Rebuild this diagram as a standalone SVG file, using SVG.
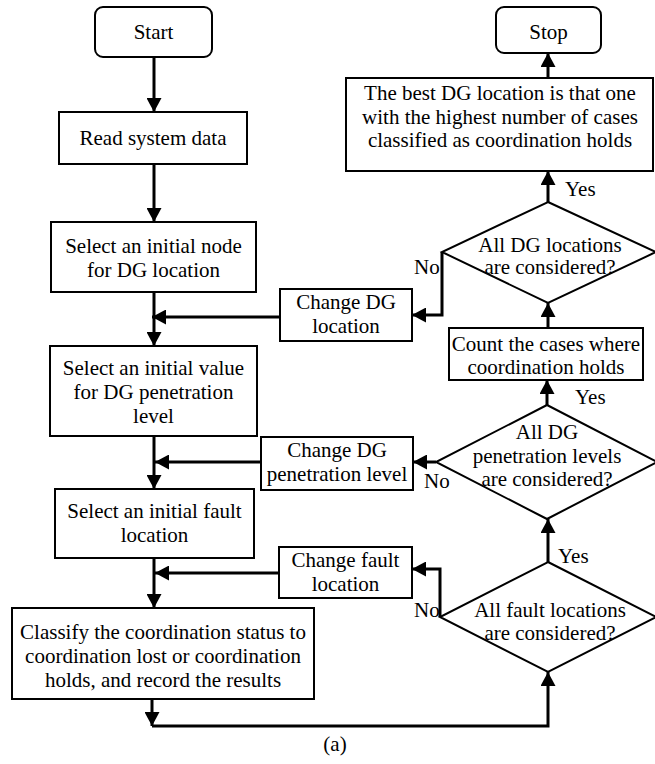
<svg xmlns="http://www.w3.org/2000/svg" width="655" height="764" viewBox="0 0 655 764">
<style>
.box{fill:#fff;stroke:#000;stroke-width:2}
.t{font-family:'Liberation Serif','Times New Roman',Times,serif;font-size:21px;fill:#000;text-anchor:middle}
.l{font-family:'Liberation Serif','Times New Roman',Times,serif;font-size:21px;fill:#000}
.c{fill:none;stroke:#000;stroke-width:3}
</style>
<defs>
<marker id="ah" markerUnits="userSpaceOnUse" markerWidth="15" markerHeight="15" refX="14" refY="7.5" orient="auto">
<path d="M0,0 L14,7.5 L0,15 z" fill="#000"/>
</marker>
</defs>
<rect width="655" height="764" fill="#fff"/>
<g id="connectors">
<path class="c" d="M154,57 V112" marker-end="url(#ah)"/>
<path class="c" d="M154,164 V222" marker-end="url(#ah)"/>
<path class="c" d="M154,292 V346" marker-end="url(#ah)"/>
<path class="c" d="M280,317 H152" marker-end="url(#ah)"/>
<path class="c" d="M154,436 V489" marker-end="url(#ah)"/>
<path class="c" d="M261,462 H155" marker-end="url(#ah)"/>
<path class="c" d="M154,558 V608" marker-end="url(#ah)"/>
<path class="c" d="M279,573 H155" marker-end="url(#ah)"/>
<path class="c" d="M152,699 V726" marker-end="url(#ah)"/>
<path class="c" d="M152,726 H548 V672" marker-end="url(#ah)"/>
<path class="c" d="M548,562 V519" marker-end="url(#ah)"/>
<path class="c" d="M440,617 V569 H412" marker-end="url(#ah)"/>
<path class="c" d="M436,462 H413" marker-end="url(#ah)"/>
<path class="c" d="M547,405 V380" marker-end="url(#ah)"/>
<path class="c" d="M548,328 V303" marker-end="url(#ah)"/>
<path class="c" d="M442,252 V315 H412" marker-end="url(#ah)"/>
<path class="c" d="M548,202 V171" marker-end="url(#ah)"/>
<path class="c" d="M548,78 V53" marker-end="url(#ah)"/>
<text class="l" x="565" y="196">Yes</text>
<text class="l" x="414" y="274">No</text>
<text class="l" x="575" y="404">Yes</text>
<text class="l" x="424" y="488">No</text>
<text class="l" x="558" y="563">Yes</text>
<text class="l" x="414" y="617">No</text>
</g>
<g id="start">
<rect class="box" x="95" y="7" width="117" height="50" rx="8"/>
<text class="t" x="153.5" y="39">Start</text>
</g>
<g id="read">
<rect class="box" x="59" y="112" width="188" height="52"/>
<text class="t" x="153" y="145">Read system data</text>
</g>
<g id="selnode">
<rect class="box" x="51" y="222" width="205" height="70"/>
<text class="t" x="153.5" y="253">Select an initial node</text>
<text class="t" x="153.5" y="277">for DG location</text>
</g>
<g id="selvalue">
<rect class="box" x="50" y="346" width="207" height="90"/>
<text class="t" x="153.5" y="375">Select an initial value</text>
<text class="t" x="153.5" y="399">for DG penetration</text>
<text class="t" x="153.5" y="423">level</text>
</g>
<g id="selfault">
<rect class="box" x="55" y="489" width="199" height="69"/>
<text class="t" x="154.5" y="518">Select an initial fault</text>
<text class="t" x="154.5" y="542">location</text>
</g>
<g id="classify">
<rect class="box" x="12" y="608" width="302" height="91"/>
<text class="t" x="163" y="639">Classify the coordination status to</text>
<text class="t" x="163" y="663">coordination lost or coordination</text>
<text class="t" x="163" y="687">holds, and record the results</text>
</g>
<g id="chgloc">
<rect class="box" x="280" y="289" width="132" height="52"/>
<text class="t" x="346" y="309">Change DG</text>
<text class="t" x="346" y="333">location</text>
</g>
<g id="chgpen">
<rect class="box" x="261" y="437" width="152" height="53"/>
<text class="t" x="337" y="457">Change DG</text>
<text class="t" x="337" y="481">penetration level</text>
</g>
<g id="chgfault">
<rect class="box" x="279" y="547" width="133" height="51"/>
<text class="t" x="345.5" y="567">Change fault</text>
<text class="t" x="345.5" y="591">location</text>
</g>
<g id="faultdec">
<polygon class="box" points="548,562 656,617 548,672 440,617"/>
<text class="t" x="550" y="617">All fault locations</text>
<text class="t" x="550" y="640">are considered?</text>
</g>
<g id="pendec">
<polygon class="box" points="547,405 657,462 547,519 436,462"/>
<text class="t" x="547" y="439">All DG</text>
<text class="t" x="547" y="463">penetration levels</text>
<text class="t" x="547" y="486">are considered?</text>
</g>
<g id="count">
<rect class="box" x="449" y="328" width="194" height="52"/>
<text class="t" x="546" y="351">Count the cases where</text>
<text class="t" x="546" y="374">coordination holds</text>
</g>
<g id="locdec">
<polygon class="box" points="548,202 656,252 548,303 442,252"/>
<text class="t" x="550" y="252">All DG locations</text>
<text class="t" x="550" y="274">are considered?</text>
</g>
<g id="best">
<rect class="box" x="346" y="78" width="307" height="93"/>
<text class="t" x="500" y="100">The best DG location is that one</text>
<text class="t" x="500" y="124">with the highest number of cases</text>
<text class="t" x="500" y="147">classified as coordination holds</text>
</g>
<g id="stop">
<rect class="box" x="496" y="7" width="105" height="46" rx="8"/>
<text class="t" x="548.5" y="39">Stop</text>
</g>
<text class="t" x="335" y="751">(a)</text>
</svg>
